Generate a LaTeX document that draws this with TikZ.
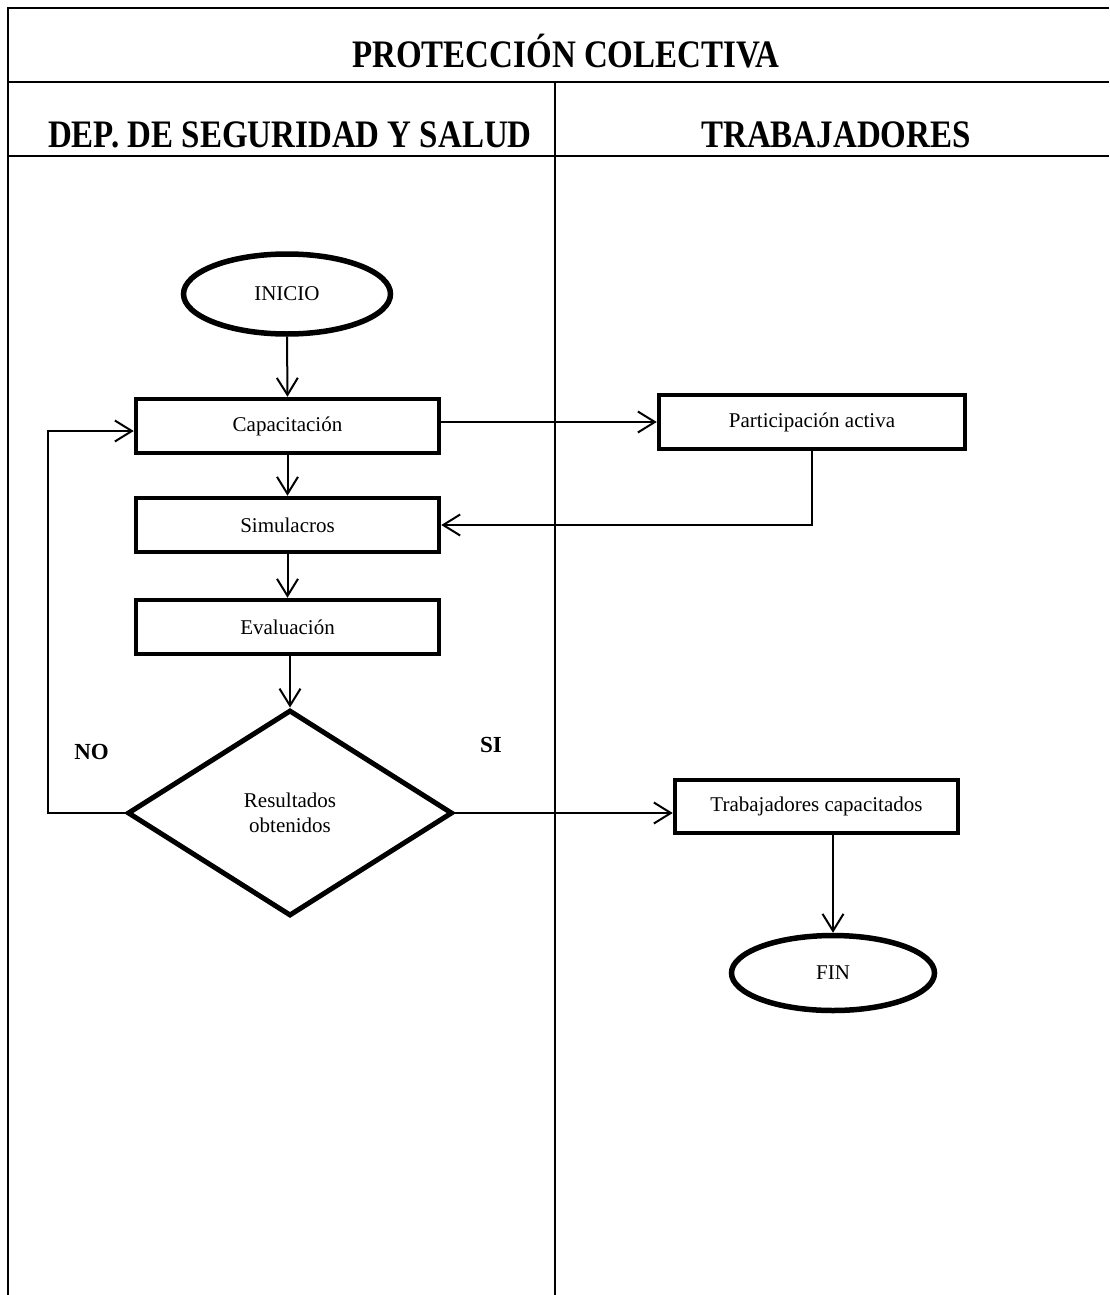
\documentclass[tikz,border=0pt]{standalone}
\usepackage{fontspec}
\usepackage{graphicx}
\setmainfont{Liberation Serif}
\usetikzlibrary{shapes.geometric,arrows.meta}
\newcommand{\tallhdr}[1]{\scalebox{1}[1.18]{#1}}
\begin{document}
\begin{tikzpicture}[x=1pt,y=-1pt,
  tbl/.style={line width=2.5pt},
  proc/.style={draw,line width=4.5pt,inner sep=0pt,font=\fontsize{21}{25}\selectfont},
  term/.style={draw,ellipse,line width=5.5pt,inner sep=0pt,font=\fontsize{21}{25}\selectfont},
  dec/.style={draw,diamond,line width=5pt,inner sep=0pt,align=center,font=\fontsize{21}{25}\selectfont},
  conn/.style={line width=2pt},
  arr/.style={conn,-{Straight Barb[length=17pt,width=21pt,line width=2pt]}},
  hdr/.style={font=\bfseries\fontsize{33}{38}\selectfont,anchor=base,inner sep=0pt},
  lbl/.style={font=\bfseries\fontsize{23}{27}\selectfont,anchor=base,inner sep=0pt}]
\useasboundingbox (0,0) rectangle (1109,1295);
% table
\draw[tbl] (1109,8) -- (8,8) -- (8,1295);
\draw[tbl] (8,82) -- (1109,82);
\draw[tbl] (8,156) -- (1109,156);
\draw[tbl] (555,82) -- (555,1295);
\node[hdr] (title) at (566,68) {\tallhdr{PROTECCIÓN COLECTIVA}};
\node[hdr] (h1) at (290,147) {\tallhdr{DEP. DE SEGURIDAD Y SALUD}};
\node[hdr] (h2) at (836,147) {\tallhdr{TRABAJADORES}};
% nodes
\node[term,minimum width=207pt,minimum height=80pt] (ini) at (287,294) {INICIO};
\node[proc,minimum width=303pt,minimum height=54pt] (cap) at (287.5,426) {Capacitación};
\node[proc,minimum width=303pt,minimum height=54pt] (sim) at (287.5,525) {Simulacros};
\node[proc,minimum width=303pt,minimum height=54pt] (eva) at (287.5,627) {Evaluación};
\node[dec,minimum width=325pt,minimum height=206pt] (dia) at (290,813) {Resultados\\obtenidos};
\node[proc,minimum width=306pt,minimum height=54pt] (par) at (812,422) {Participación activa};
\node[proc,minimum width=283pt,minimum height=53pt] (tc) at (816.5,806.5) {Trabajadores capacitados};
\node[term,minimum width=203pt,minimum height=75pt] (fin) at (833,973) {FIN};
\node[lbl] (no) at (91.5,759) {NO};
\node[lbl] (si) at (491,752) {SI};
% connectors
\coordinate (lp1) at (48,813);
\coordinate (lp2) at (48,431);
\draw[arr] (ini.south) -- (cap.north);
\draw[arr] (cap.south) -- (sim.north);
\draw[arr] (sim.south) -- (eva.north);
\draw[arr] (eva.south -| dia.north) -- (dia.north);
\draw[arr] (cap.east |- par.west) -- (par.west);
\draw[arr] (par.south) -- (par.south |- sim.east) -- (sim.east);
\draw[arr] (dia.west) -- (lp1) -- (lp2) -- (lp2 -| cap.west);
\draw[arr] (dia.east) -- (dia.east -| tc.west);
\draw[arr] (fin.north |- tc.south) -- (fin.north);
\end{tikzpicture}
\end{document}
